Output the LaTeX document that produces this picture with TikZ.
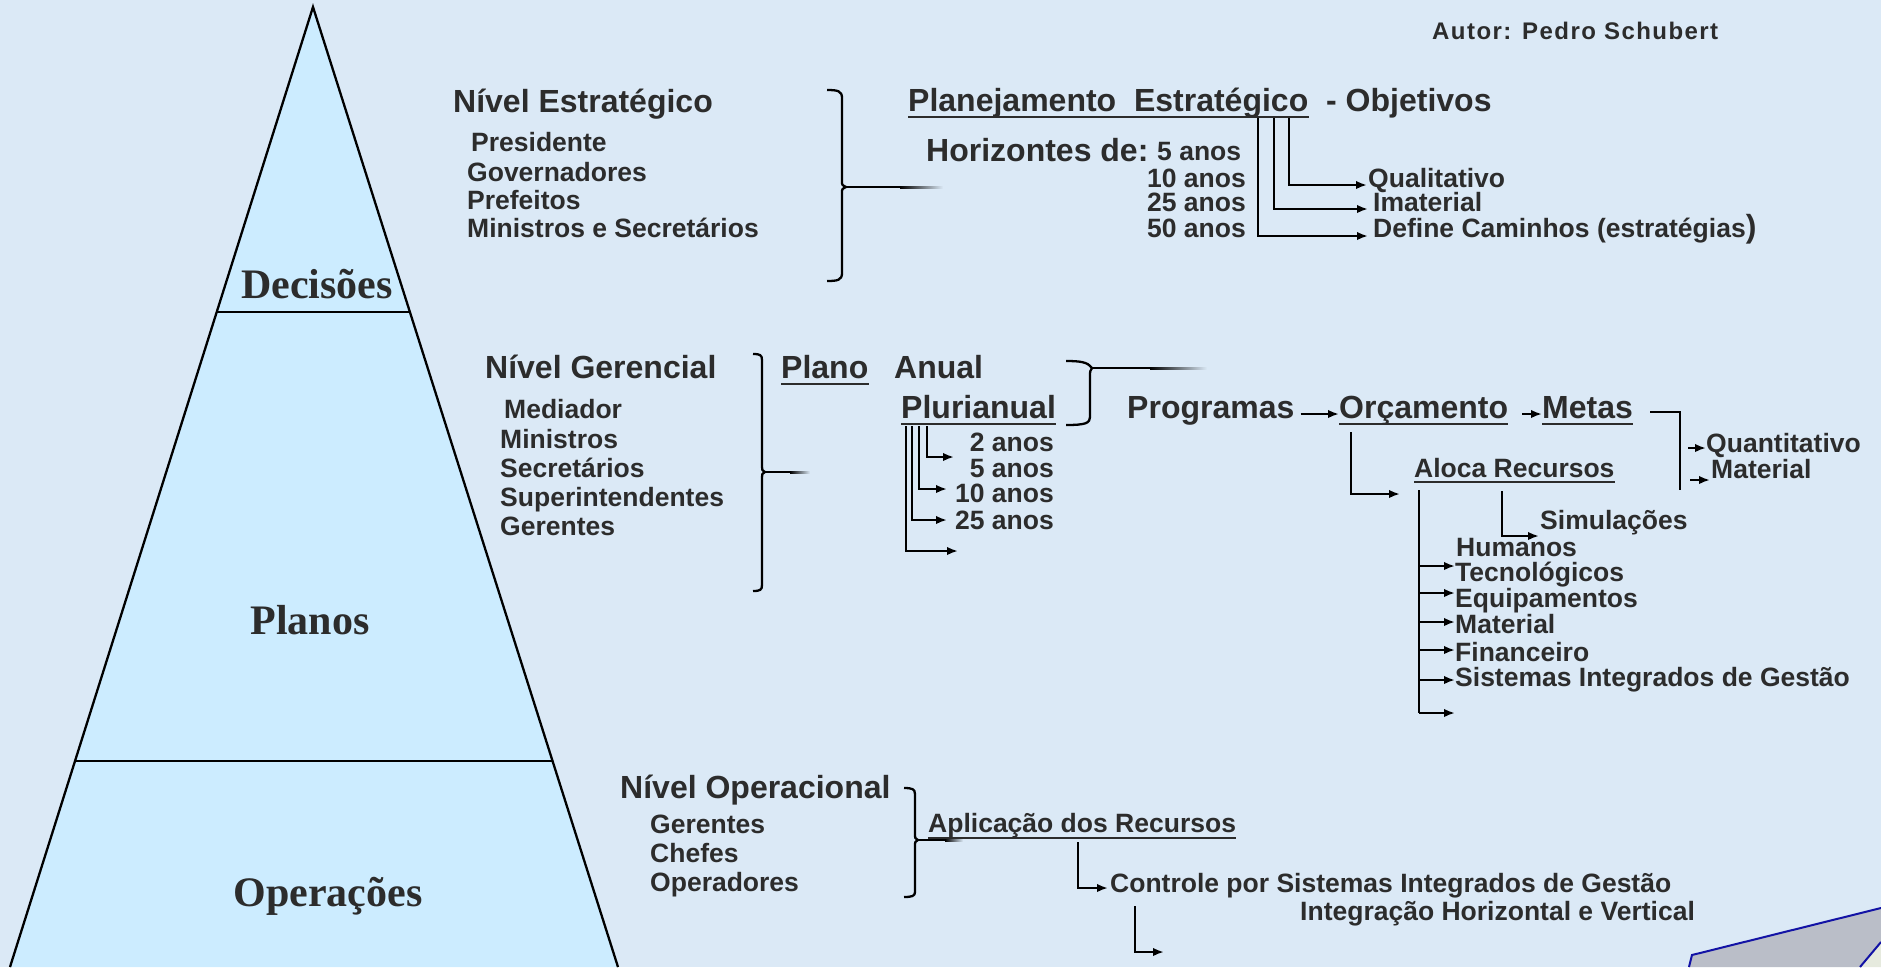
\documentclass[tikz,border=0pt]{standalone}
\usepackage{fontspec}
\setmainfont{Liberation Sans}
\newfontfamily\pyrfont{Liberation Serif}
\newfontfamily\authfont[LetterSpace=6.0]{Liberation Sans}
\usetikzlibrary{arrows.meta,calc}
\definecolor{bg}{RGB}{219,233,246}
\definecolor{pyr}{RGB}{204,236,255}
\definecolor{txt}{RGB}{44,44,44}
\definecolor{logoblue}{RGB}{18,18,165}
\definecolor{logogray}{RGB}{186,190,200}
\definecolor{logolight}{RGB}{230,234,222}
\tikzset{
  big/.style={font=\fontsize{32}{36}\selectfont\bfseries, text=txt, inner sep=0pt, anchor=base west},
  sml/.style={font=\fontsize{26.5}{30}\selectfont\bfseries, text=txt, inner sep=0pt, anchor=base west},
  pyrlab/.style={font=\pyrfont\fontsize{42}{46}\selectfont\bfseries, text=txt, inner sep=0pt, anchor=base},
  conn/.style={line width=2.3pt, -{Latex[length=11pt,width=8.5pt]}},
  plainln/.style={line width=2.3pt},
  uline/.style={line width=2.5pt, draw=txt},
  fadetick/.style={left color=black, right color=bg},
}
\begin{document}
\begin{tikzpicture}[x=1pt,y=-1pt]
\useasboundingbox (0,0) rectangle (1881,967);
\fill[bg] (0,0) rectangle (1881,967);

% ---------------- pyramid
\coordinate (apex) at (313,7);
\coordinate (bl) at (10,967);
\coordinate (br) at (618,967);
\fill[pyr] (apex) -- (bl) -- (br) -- cycle;
\draw[plainln] (bl) -- (apex) -- (br);
\draw[plainln] ($(apex)!0.3177!(bl)$) -- ($(apex)!0.3177!(br)$);
\draw[plainln] ($(apex)!0.7854!(bl)$) -- ($(apex)!0.7854!(br)$);
\node[pyrlab] (dec) at (317,298) {Decisões};
\node[pyrlab] (pla) at (310,634) {Planos};
\node[pyrlab] (ope) at (328,906) {Operações};

% ---------------- author
\node[font=\authfont\fontsize{24}{28}\selectfont\bfseries, text=txt, inner sep=0pt, anchor=base west] (autor) at (1432,39) {Autor: Pedro Schubert};

% ---------------- strategic level
\node[big] (nest) at (453,112) {Nível Estratégico};
\node[sml] (pres) at (471,151) {Presidente};
\node[sml] (gov) at (467,181) {Governadores};
\node[sml] (pref) at (467,209) {Prefeitos};
\node[sml] (mins) at (467,237) {Ministros e Secretários};

\draw[plainln] (827,90) .. controls (838,90) and (842,91) .. (842,98) -- (842,181)
  .. controls (842,185) .. (846,187) .. controls (842,189) .. (842,193) -- (842,273)
  .. controls (842,280) and (838,281) .. (827,281);
\draw[plainln] (846,187) -- (900,187);
\shade[fadetick] (900,186) rectangle (943,188);

\node[big] (plan) at (908,111) {Planejamento\ \ Estratégico};
\draw[uline] ($(plan.base west)+(0,6)$) -- ($(plan.base east)+(0,6)$);
\node[big] (obj) at (1326,111) {- Objetivos};

\node[big] (hor) at (926,161) {Horizontes de:};
\node[sml] (a5) at (1157,160) {5 anos};
\node[sml, anchor=base east] (a10) at (1246,187) {10 anos};
\node[sml, anchor=base east] (a25) at (1246,211) {25 anos};
\node[sml, anchor=base east] (a50) at (1246,237) {50 anos};

\node[sml] (qual) at (1368,187) {Qualitativo};
\node[sml] (imat) at (1373,211) {Imaterial};
\node[sml] (defc) at (1373,237) {Define Caminhos (estratégias{\fontsize{32}{36}\selectfont )}};

\coordinate (pq) at (1289,118);
\coordinate (pi) at (1274,118);
\coordinate (pd) at (1258,118);
\draw[conn] (pq) |- ($(qual.base west)+(-1,-2)$);
\draw[conn] (pi) |- ($(imat.base west)+(-5,-2)$);
\draw[conn] (pd) |- ($(defc.base west)+(-5,-1)$);

% ---------------- managerial level
\node[big] (nger) at (485,378) {Nível Gerencial};
\node[sml] (med) at (504,418) {Mediador};
\node[sml] (min2) at (500,448) {Ministros};
\node[sml] (sec) at (500,477) {Secretários};
\node[sml] (sup) at (500,506) {Superintendentes};
\node[sml] (ger) at (500,535) {Gerentes};

\draw[plainln] (753,354) .. controls (760,354) and (762,355) .. (762,360) -- (762,467)
  .. controls (762,470) .. (765,472) .. controls (762,474) .. (762,477) -- (762,585)
  .. controls (762,590) and (760,591) .. (753,591);
\draw[plainln] (765,472) -- (790,472);
\shade[fadetick] (790,471) rectangle (810,473);

\node[big] (plano) at (781,378) {Plano};
\draw[uline] ($(plano.base west)+(0,6)$) -- ($(plano.base east)+(0,6)$);
\node[big] (anual) at (894,378) {Anual};
\node[big] (pluri) at (901,418) {Plurianual};
\draw[uline] ($(pluri.base west)+(0,6)$) -- ($(pluri.base east)+(0,6)$);

\draw[plainln] (1066,361) .. controls (1080,361) and (1088,362) .. (1092,368);
\draw[plainln] (1092,368) .. controls (1090,370) and (1090,372) .. (1090,376) -- (1090,417)
  .. controls (1090,423) and (1086,425) .. (1066,425);
\draw[plainln] (1092,368) -- (1150,368);
\shade[fadetick] (1150,367) rectangle (1207,369);

\node[sml, anchor=base east] (b2) at (1054,451) {2 anos};
\node[sml, anchor=base east] (b5) at (1054,477) {5 anos};
\node[sml, anchor=base east] (b10) at (1054,502) {10 anos};
\node[sml, anchor=base east] (b25) at (1054,529) {25 anos};

\coordinate (v1) at (927,426);
\coordinate (v2) at (919,426);
\coordinate (v3) at (912,426);
\coordinate (v4) at (906,426);
\coordinate (e1) at (954,457);
\coordinate (e2) at (947,489);
\coordinate (e3) at (947,520);
\coordinate (e4) at (958,551);
\draw[conn] (v1) |- (e1);
\draw[conn] (v2) |- (e2);
\draw[conn] (v3) |- (e3);
\draw[conn] (v4) |- (e4);

\node[big] (prog) at (1127,418) {Programas};
\node[big] (orc) at (1339,418) {Orçamento};
\draw[uline] ($(orc.base west)+(0,6)$) -- ($(orc.base east)+(0,6)$);
\node[big] (metas) at (1542,418) {Metas};
\draw[uline] ($(metas.base west)+(0,6)$) -- ($(metas.base east)+(0,6)$);
\draw[conn] ($(prog.base east)+(6,-4)$) -- ($(orc.base west)+(0,-4)$);
\draw[conn] ($(orc.base east)+(14,-4)$) -- ($(metas.base west)+(0,-4)$);

\coordinate (mt1) at (1650,412);
\coordinate (mt2) at (1680,412);
\coordinate (mt3) at (1680,490);
\draw[plainln] (mt1) -- (mt2) -- (mt3);
\node[sml] (quant) at (1706,452) {Quantitativo};
\node[sml] (mat1) at (1711,478) {Material};
\coordinate (qa) at (1688,448);
\coordinate (ma) at (1690,480);
\draw[conn] (qa) -- ($(quant.base west)+(0,-4)$);
\draw[conn] (ma) -- ($(mat1.base west)+(-1,2)$);

\node[sml] (aloca) at (1414,477) {Aloca Recursos};
\draw[uline] ($(aloca.base west)+(0,5)$) -- ($(aloca.base east)+(0,5)$);
\coordinate (oc1) at (1351,432);
\coordinate (oc2) at (1400,494);
\draw[conn] (oc1) |- (oc2);

\node[sml] (simul) at (1540,529) {Simulações};
\coordinate (al1) at (1502,491);
\coordinate (al2) at (1539,536);
\draw[conn] (al1) |- (al2);

\node[sml] (hum) at (1456,556) {Humanos};
\node[sml] (tec) at (1455,581) {Tecnológicos};
\node[sml] (equ) at (1455,607) {Equipamentos};
\node[sml] (mat2) at (1455,633) {Material};
\node[sml] (fin) at (1455,661) {Financeiro};
\node[sml] (sis) at (1455,686) {Sistemas Integrados de Gestão};
\coordinate (rtop) at (1419,490);
\coordinate (r1) at (1455,566);
\coordinate (r2) at (1455,593);
\coordinate (r3) at (1455,622);
\coordinate (r4) at (1455,650);
\coordinate (r5) at (1455,680);
\coordinate (r6) at (1455,713);
\draw[plainln] (rtop) -- (rtop |- r6);
\foreach \r in {r1,r2,r3,r4,r5} \draw[conn] (rtop |- \r) -- (\r);
\draw[conn] (rtop |- r6) -- (r6);

% ---------------- operational level
\node[big] (nop) at (620,798) {Nível Operacional};
\node[sml] (ger2) at (650,833) {Gerentes};
\node[sml] (chef) at (650,862) {Chefes};
\node[sml] (oper) at (650,891) {Operadores};

\draw[plainln] (904,788) .. controls (912,788) and (915,789) .. (915,794) -- (915,836)
  .. controls (915,838) .. (918,840) .. controls (915,842) .. (915,844) -- (915,892)
  .. controls (915,896) and (912,897) .. (904,897);
\draw[plainln] (918,840) -- (945,840);
\shade[fadetick] (945,839) rectangle (963,841);

\node[sml] (aplic) at (928,832) {Aplicação dos Recursos};
\draw[uline] ($(aplic.base west)+(0,6)$) -- ($(aplic.base east)+(0,6)$);
\coordinate (ap1) at (1078,842);
\coordinate (ap2) at (1108,888);
\draw[conn] (ap1) |- (ap2);
\node[sml] (ctrl) at (1110,892) {Controle por Sistemas Integrados de Gestão};
\node[sml] (integ) at (1300,920) {Integração Horizontal e Vertical};
\coordinate (ct1) at (1135,906);
\coordinate (ct2) at (1164,952);
\draw[conn] (ct1) |- (ct2);

% ---------------- logo corner
\fill[logogray] (1689,967) -- (1692,955) -- (1881,908) -- (1881,942) -- (1860,967) -- cycle;
\fill[logolight] (1860,967) -- (1881,942) -- (1881,967) -- cycle;
\draw[logoblue, line width=2pt] (1689,967) -- (1692,955) -- (1881,908);
\draw[logoblue, line width=2pt] (1860,967) -- (1881,942);
\end{tikzpicture}
\end{document}
